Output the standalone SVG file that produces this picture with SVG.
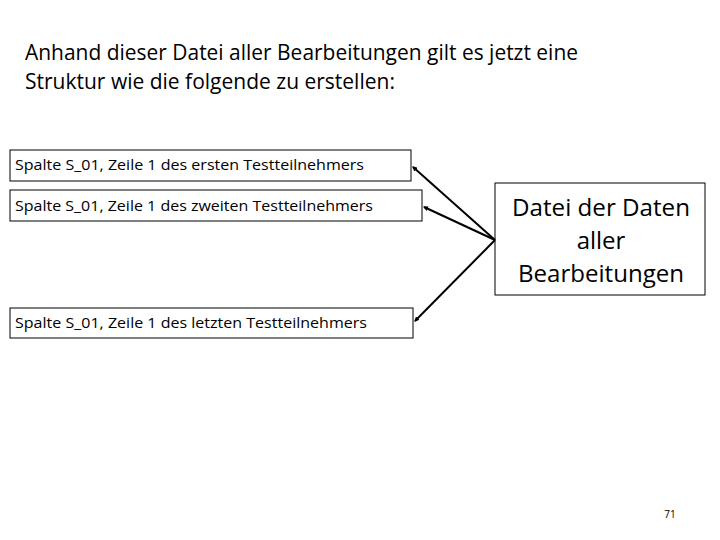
<svg xmlns="http://www.w3.org/2000/svg" width="720" height="540" viewBox="0 0 720 540">
<style>
text{font-family:"Open Sans","Liberation Sans",sans-serif;fill:#000}
.b{fill:#fff;stroke:#000;stroke-width:1}
.s{font-size:15px}
.c{stroke:#000;stroke-width:2;fill:none;marker-end:url(#a)}
</style>
<defs><marker id="a" markerWidth="5" markerHeight="5" refX="4" refY="2.5" orient="auto" markerUnits="userSpaceOnUse"><path d="M0,0L5,2.5L0,5z" fill="#000"/></marker></defs>
<rect width="720" height="540" fill="#fff"/>
<g id="title"><text x="25" y="60" font-size="21" textLength="553" lengthAdjust="spacingAndGlyphs">Anhand dieser Datei aller Bearbeitungen gilt es jetzt eine</text><text x="25" y="89" font-size="21">Struktur wie die folgende zu erstellen:</text></g>
<g id="n1"><rect class="b" x="10" y="150" width="401" height="31"/><text class="s" x="15" y="170" textLength="349" lengthAdjust="spacingAndGlyphs">Spalte S_01, Zeile 1 des ersten Testteilnehmers</text></g>
<g id="n2"><rect class="b" x="10" y="190" width="412" height="31"/><text class="s" x="15" y="211" textLength="358" lengthAdjust="spacingAndGlyphs">Spalte S_01, Zeile 1 des zweiten Testteilnehmers</text></g>
<g id="n3"><rect class="b" x="10" y="308" width="403" height="30"/><text class="s" x="15" y="328" textLength="352" lengthAdjust="spacingAndGlyphs">Spalte S_01, Zeile 1 des letzten Testteilnehmers</text></g>
<g id="n4"><rect class="b" x="495" y="183" width="210" height="112"/><text x="601" y="216" font-size="24" text-anchor="middle" textLength="178" lengthAdjust="spacingAndGlyphs">Datei der Daten</text><text x="601" y="249" font-size="24" text-anchor="middle">aller</text><text x="601" y="282" font-size="24" text-anchor="middle" textLength="166" lengthAdjust="spacingAndGlyphs">Bearbeitungen</text></g>
<g id="connectors">
<line class="c" x1="495" y1="240" x2="413" y2="167"/>
<line class="c" x1="495" y1="240" x2="424" y2="207"/>
<line class="c" x1="495" y1="240" x2="415" y2="321"/>
</g>
<text x="670" y="518" font-size="10" text-anchor="middle">71</text>
</svg>
